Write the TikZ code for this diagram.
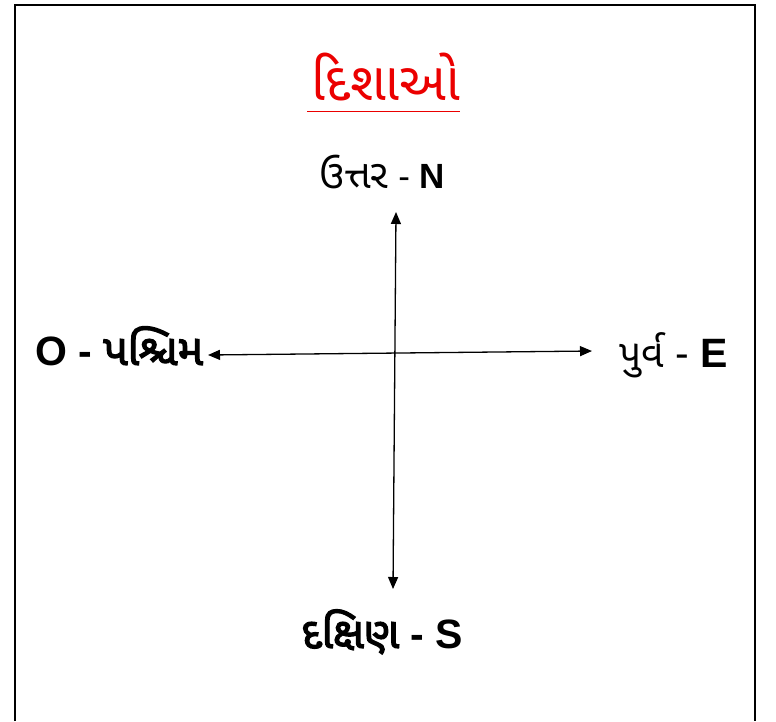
\documentclass[tikz,border=0pt]{standalone}
\usepackage{fontspec}
\setmainfont{Liberation Sans}
\newfontfamily\guj[Script=Gujarati]{Noto Sans Gujarati UI}
\newfontfamily\gujb[Script=Gujarati,FakeBold=3]{Noto Sans Gujarati UI}
\usetikzlibrary{arrows.meta}
\definecolor{titlered}{RGB}{235,0,0}
\tikzset{
  lbl/.style={inner sep=0pt, outer sep=0pt},
  dirarrow/.style={line width=1.3pt, {Triangle[length=12pt,width=10pt]}-{Triangle[length=12pt,width=10pt]}},
  frame/.style={line width=2pt, black}
}
\begin{document}
\begin{tikzpicture}[x=1pt,y=-1pt]
\useasboundingbox (0,0) rectangle (776,721);
\draw[frame] (14.5,721) -- (14.5,5) -- (755,5) -- (755,721);
% title
\node[lbl, anchor=base, text=titlered, font=\guj\fontsize{53}{60}\selectfont] (title) at (386,100) {દિશાઓ};
\draw[titlered, line width=1pt] (307,111) -- (460,111);
% labels
\node[lbl, anchor=base east, font=\fontsize{35}{42}\selectfont] (north) at (445,188) {{\guj\fontsize{40}{46}\selectfont ઉત્તર} - \textbf{N}};
\node[lbl, anchor=base west, font=\fontsize{41}{48}\selectfont] (west) at (35,365) {\textbf{O -} {\gujb\fontsize{43}{50}\selectfont પશ્ચિમ}};
\node[lbl, anchor=base east, font=\fontsize{41}{48}\selectfont] (east) at (728,367) {{\guj\fontsize{39}{46}\selectfont પુર્વ} - \textbf{E}};
\node[lbl, anchor=base east, font=\fontsize{41}{48}\selectfont] (south) at (463,648) {{\gujb\fontsize{43}{50}\selectfont દક્ષિણ} \textbf{- S}};
% arrows
\coordinate (ntip) at (396,212);
\coordinate (stip) at (393,589);
\coordinate (wtip) at (208,355);
\coordinate (etip) at (592,351);
\draw[dirarrow] (ntip) -- (stip);
\draw[dirarrow] (wtip) -- (etip);
\end{tikzpicture}
\end{document}
